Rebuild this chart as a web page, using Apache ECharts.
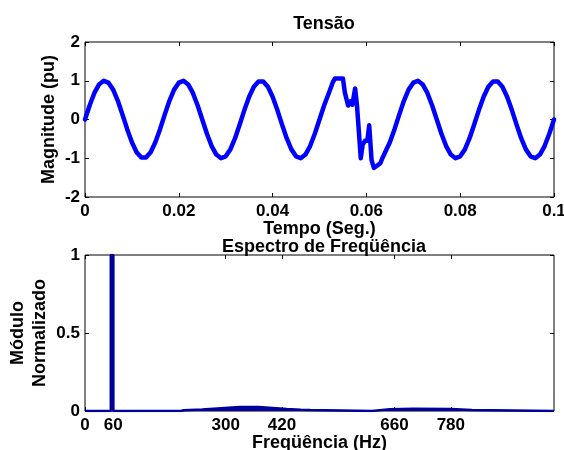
<!DOCTYPE html>
<html>
<head>
<meta charset="utf-8">
<script src="https://cdn.jsdelivr.net/npm/echarts@6.0.0/dist/echarts.min.js"></script>
<style>
  html, body { margin: 0; padding: 0; background: #fff; }
  #chart { width: 564px; height: 450px; }
</style>
</head>
<body>
<div id="chart"></div>
<script>
// sinal de tensão (pu)
const tempo = [
  0, 0.001, 0.002, 0.003, 0.004, 0.005, 0.006, 0.007, 0.008, 0.009,
  0.010, 0.011, 0.012, 0.013, 0.014, 0.015, 0.016, 0.017, 0.018, 0.019,
  0.020, 0.021, 0.022, 0.023, 0.024, 0.025, 0.026, 0.027, 0.028, 0.029,
  0.030, 0.031, 0.032, 0.033, 0.034, 0.035, 0.036, 0.037, 0.038, 0.039,
  0.040, 0.041, 0.042, 0.043, 0.044, 0.045, 0.046, 0.047, 0.048, 0.049,
  0.050, 0.051, 0.052, 0.0528, 0.0533, 0.0550, 0.0554, 0.0561, 0.0566, 0.0570,
  0.0576, 0.0580, 0.0588, 0.0592, 0.0597, 0.0602, 0.0606, 0.0611, 0.0616, 0.0622,
  0.0626, 0.0630, 0.0634, 0.064, 0.065, 0.066, 0.067, 0.068, 0.069,
  0.070, 0.071, 0.072, 0.073, 0.074, 0.075, 0.076, 0.077, 0.078, 0.079,
  0.080, 0.081, 0.082, 0.083, 0.084, 0.085, 0.086, 0.087, 0.088, 0.089,
  0.090, 0.091, 0.092, 0.093, 0.094, 0.095, 0.096, 0.097, 0.098, 0.099, 0.100
];
const tensao = [
  0, 0.368, 0.685, 0.905, 0.998, 0.951, 0.771, 0.482, 0.125, -0.249,
  -0.588, -0.844, -0.982, -0.982, -0.844, -0.588, -0.249, 0.125, 0.482, 0.771,
  0.951, 0.998, 0.905, 0.685, 0.368, 0, -0.368, -0.685, -0.905, -0.998,
  -0.951, -0.771, -0.482, -0.125, 0.249, 0.588, 0.844, 0.982, 0.982, 0.844,
  0.588, 0.249, -0.125, -0.482, -0.771, -0.951, -0.998, -0.905, -0.685, -0.368,
  0, 0.368, 0.685, 0.95, 1.06, 1.06, 0.7, 0.36, 0.47, 0.38,
  0.8, 0.35, -1.0, -0.65, -0.55, -0.55, -0.15, -1.05, -1.25, -1.2,
  -1.15, -1.12, -1.0, -0.844, -0.588, -0.249, 0.125, 0.482, 0.771,
  0.951, 0.998, 0.905, 0.685, 0.368, 0, -0.368, -0.685, -0.905, -0.998,
  -0.951, -0.771, -0.482, -0.125, 0.249, 0.588, 0.844, 0.982, 0.982, 0.844,
  0.588, 0.249, -0.125, -0.482, -0.771, -0.951, -0.998, -0.905, -0.685, -0.368, 0
];

// espectro normalizado
const freqHz = [
  0, 55, 55, 60.5, 60.5, 205, 210, 250, 290, 330,
  370, 400, 430, 460, 480, 482, 612, 615, 650, 700,
  780, 825, 827, 1000
];
const modulo = [
  0, 0, 1, 1, 0, 0, 0.005, 0.01, 0.018, 0.025,
  0.025, 0.02, 0.013, 0.008, 0.006, 0, 0, 0.006, 0.012, 0.014,
  0.013, 0.006, 0, 0
];
const freqTicks = [0, 60, 300, 420, 660, 780];

const pares = (xs, ys) => xs.map((x, i) => [x, ys[i]]);

const fonte = "'Liberation Sans', Arial, sans-serif";
const txt = { color: "#000", fontWeight: "bold", fontFamily: fonte };

function eixoBase(extra) {
  return Object.assign({
    type: "value",
    axisLine: { show: false, onZero: false },
    axisTick: { show: true, inside: true, length: 4, lineStyle: { color: "#000" } },
    axisLabel: Object.assign({ fontSize: 17, margin: 5 }, txt),
    splitLine: { show: false },
    nameMoveOverlap: false,
    nameTextStyle: Object.assign({ fontSize: 18 }, txt)
  }, extra);
}

const chart = echarts.init(document.getElementById("chart"), null, { renderer: "canvas" });

chart.setOption({
  animation: false,
  backgroundColor: "#fff",
  title: [
    {
      text: "Tensão",
      left: 319,
      top: 10,
      textAlign: "center",
      textStyle: Object.assign({ fontSize: 18 }, txt)
    },
    {
      text: "Espectro de Freqüência",
      left: 319,
      top: 233,
      textAlign: "center",
      textStyle: Object.assign({ fontSize: 18 }, txt)
    }
  ],
  grid: [
    { left: 85, right: 10, top: 42, height: 155, show: true, borderColor: "#000", borderWidth: 1, outerBoundsMode: "none", containLabel: false },
    { left: 85, right: 10, top: 255, height: 156, show: true, borderColor: "#000", borderWidth: 1, outerBoundsMode: "none", containLabel: false }
  ],
  xAxis: [
    eixoBase({
      gridIndex: 0, min: 0, max: 0.1, interval: 0.02,
      name: "Tempo (Seg.)", nameLocation: "middle", nameGap: 23,
      axisLabel: Object.assign({
        fontSize: 17, margin: 6,
        formatter: v => String(+v.toFixed(2))
      }, txt)
    }),
    eixoBase({
      gridIndex: 0, min: 0, max: 0.1, interval: 0.02, position: "top",
      axisLabel: { show: false }
    }),
    eixoBase({
      gridIndex: 1, min: 0, max: 1000,
      name: "Freqüência (Hz)", nameLocation: "middle", nameGap: 23,
      axisTick: { show: true, inside: true, length: 4, customValues: freqTicks, lineStyle: { color: "#000" } },
      axisLabel: Object.assign({ fontSize: 17, margin: 6, customValues: freqTicks }, txt)
    }),
    eixoBase({
      gridIndex: 1, min: 0, max: 1000, position: "top",
      axisTick: { show: true, inside: true, length: 4, customValues: freqTicks, lineStyle: { color: "#000" } },
      axisLabel: { show: false }
    })
  ],
  yAxis: [
    eixoBase({
      gridIndex: 0, min: -2, max: 2, interval: 1,
      name: "Magnitude (pu)", nameLocation: "middle", nameGap: 27
    }),
    eixoBase({
      gridIndex: 0, min: -2, max: 2, interval: 1, position: "right",
      axisLabel: { show: false }
    }),
    eixoBase({
      gridIndex: 1, min: 0, max: 1, interval: 0.5,
      name: "Módulo\nNormalizado", nameLocation: "middle", nameGap: 34,
      nameTextStyle: Object.assign({ fontSize: 18, lineHeight: 22 }, txt)
    }),
    eixoBase({
      gridIndex: 1, min: 0, max: 1, interval: 0.5, position: "right",
      axisLabel: { show: false }
    })
  ],
  series: [
    {
      name: "Tensão",
      type: "line",
      xAxisIndex: 0,
      yAxisIndex: 0,
      data: pares(tempo, tensao),
      showSymbol: false,
      lineStyle: { color: "#0000ff", width: 4.5, join: "round", cap: "round" },
      itemStyle: { color: "#0000ff" }
    },
    {
      name: "Espectro",
      type: "line",
      xAxisIndex: 2,
      yAxisIndex: 2,
      data: pares(freqHz, modulo),
      showSymbol: false,
      lineStyle: { color: "#00009c", width: 2.5 },
      itemStyle: { color: "#00009c" },
      areaStyle: { color: "#00009c", opacity: 1 }
    }
  ]
});
</script>
</body>
</html>
